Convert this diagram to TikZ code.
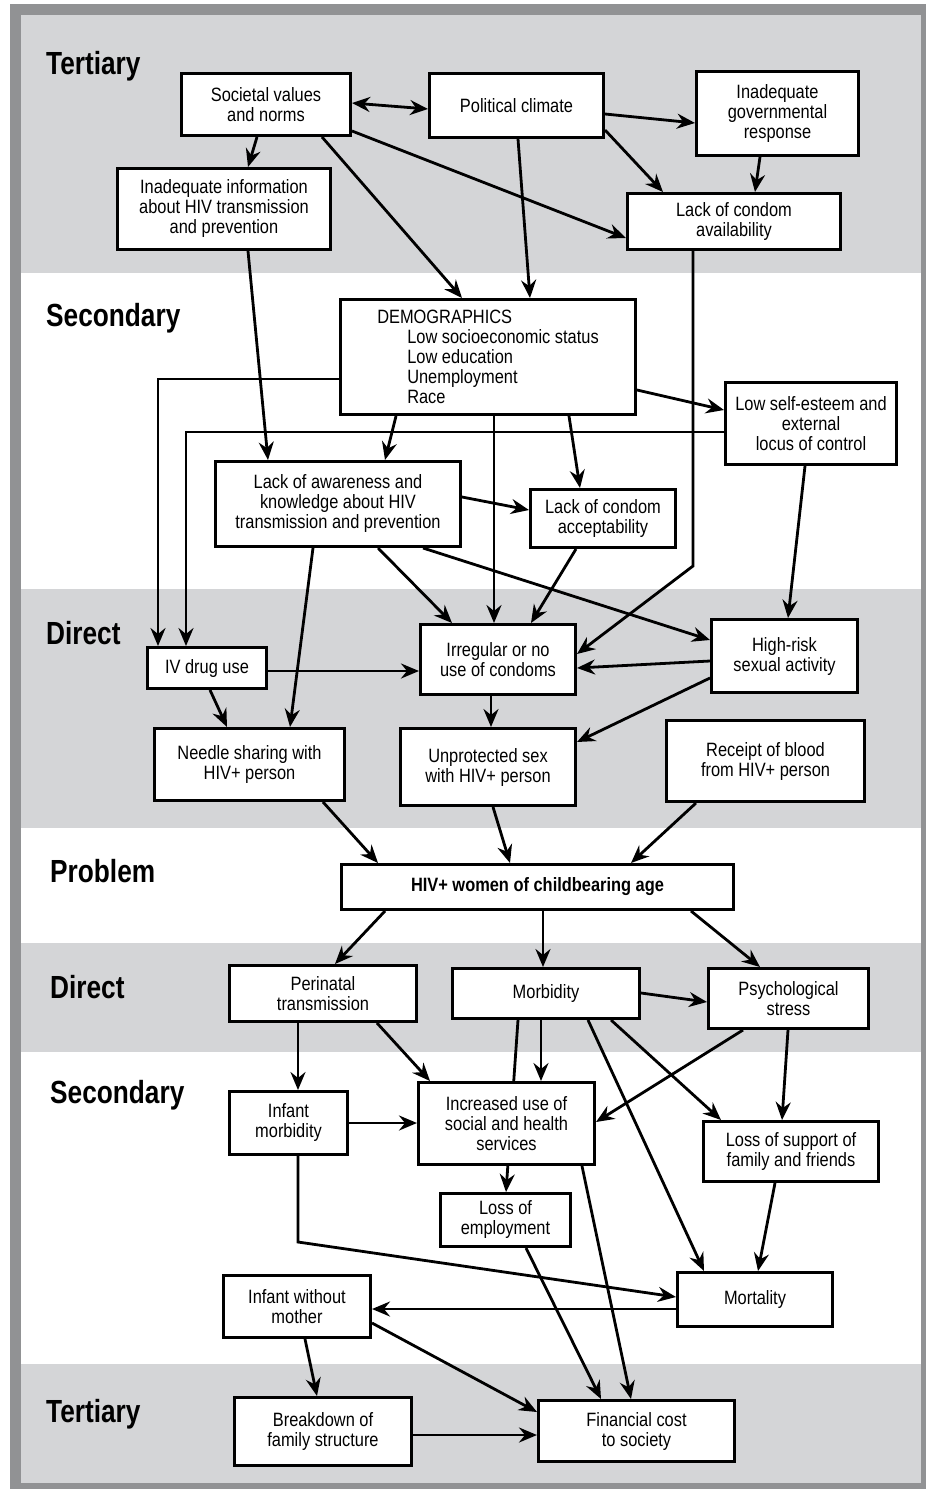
\documentclass[tikz,border=0pt]{standalone}
\usepackage{fontspec}
\setmainfont{Liberation Sans}[FakeStretch=0.85]
\newfontfamily\hdfont{Liberation Sans}[FakeStretch=0.82]
\usetikzlibrary{arrows.meta,calc}
\pgfdeclarelayer{back}
\pgfdeclarelayer{bg}
\pgfsetlayers{back,bg,main}
\definecolor{band}{RGB}{212,213,215}
\definecolor{framegray}{RGB}{145,146,148}
\newcommand\mkbox[6]{\node[bx, minimum width={#4pt-#2pt-3.2pt}, minimum height={#5pt-#3pt-3.2pt}] (#1) at ({(#2+#4)/2},{(#3+#5)/2}) {#6};}
\begin{document}
\begin{tikzpicture}[x=1pt,y=-1pt,
  bx/.style={draw, fill=white, line width=3.2pt, inner sep=0pt, align=center, font=\fontsize{19.3}{20}\selectfont},
  arr/.style={line width=2.8pt, -{Stealth[length=18pt,width=15pt,inset=6pt]}},
  darr/.style={line width=2.8pt, {Stealth[length=18pt,width=15pt,inset=6pt]}-{Stealth[length=18pt,width=15pt,inset=6pt]}},
  hd/.style={anchor=base west, inner sep=0pt, font=\hdfont\bfseries\fontsize{32}{36}\selectfont}]
\useasboundingbox (0,0) rectangle (926,1489);
\begin{pgfonlayer}{back}
\fill[white] (0,0) rectangle (926,1489);
\fill[framegray] (10,4) rectangle (926,1489);
\fill[white] (21,15) rectangle (921,1483);
\fill[band] (21,15) rectangle (921,273);
\fill[band] (21,589) rectangle (921,828);
\fill[band] (21,943) rectangle (921,1052);
\fill[band] (21,1364) rectangle (921,1483);
\end{pgfonlayer}

\node[hd] (h1) at (46,74) {Tertiary};
\node[hd] (h2) at (46,326) {Secondary};
\node[hd] (h3) at (46,644) {Direct};
\node[hd] (h4) at (50,882) {Problem};
\node[hd] (h5) at (50,998) {Direct};
\node[hd] (h6) at (50,1103) {Secondary};
\node[hd] (h7) at (46,1422) {Tertiary};

\mkbox{soc}{180}{72}{352}{137}{Societal values\\and norms}
\mkbox{pol}{428}{72}{605}{139}{Political climate}
\mkbox{gov}{695}{70}{860}{157}{Inadequate\\governmental\\response}
\mkbox{inf}{116}{167}{332}{251}{Inadequate information\\about HIV transmission\\and prevention}
\mkbox{lca}{626}{192}{842}{251}{Lack of condom\\availability}
\node[bx, align=left, minimum width={298pt-3.2pt}, minimum height={118pt-3.2pt}] (demo) at (488,357)
  {DEMOGRAPHICS\\\hspace*{30pt}Low socioeconomic status\\\hspace*{30pt}Low education\\\hspace*{30pt}Unemployment\\\hspace*{30pt}Race};
\mkbox{lse}{724}{381}{898}{466}{Low self-esteem and\\external\\locus of control}
\mkbox{awa}{214}{460}{462}{548}{Lack of awareness and\\knowledge about HIV\\transmission and prevention}
\mkbox{acc}{529}{488}{677}{549}{Lack of condom\\acceptability}
\mkbox{ivd}{146}{646}{268}{690}{IV drug use}
\mkbox{irr}{419}{623}{577}{696}{Irregular or no\\use of condoms}
\mkbox{hrs}{710}{618}{859}{694}{High-risk\\sexual activity}
\mkbox{nee}{153}{727}{346}{802}{Needle sharing with\\HIV+ person}
\mkbox{unp}{399}{727}{577}{807}{Unprotected sex\\with HIV+ person}
\mkbox{rec}{665}{719}{866}{803}{Receipt of blood\\from HIV+ person}
\mkbox{hiv}{340}{863}{735}{911}{\bfseries HIV+ women of childbearing age}
\mkbox{per}{228}{964}{418}{1023}{Perinatal\\transmission}
\mkbox{mor}{451}{967}{641}{1020}{Morbidity}
\mkbox{psy}{707}{967}{870}{1030}{Psychological\\stress}
\mkbox{inm}{228}{1090}{349}{1156}{Infant\\morbidity}
\mkbox{inc}{417}{1081}{596}{1166}{Increased use of\\social and health\\services}
\mkbox{los}{702}{1120}{880}{1183}{Loss of support of\\family and friends}
\mkbox{emp}{439}{1192}{572}{1248}{Loss of\\employment}
\mkbox{mrt}{676}{1271}{834}{1328}{Mortality}
\mkbox{iwm}{222}{1274}{372}{1339}{Infant without\\mother}
\mkbox{brk}{233}{1396}{413}{1467}{Breakdown of\\family structure}
\mkbox{fin}{537}{1399}{736}{1463}{Financial cost\\to society}

\begin{pgfonlayer}{bg}
% tertiary
\draw[darr] (soc.east |- 0,103) -- (pol.west |- 0,109);
\draw[arr] (soc.south -| 257,0) -- (inf.north -| 248,0);
\draw[arr] (soc.south -| 322,0) -- (demo.north -| 462,0);
\draw[arr] (soc.east |- 0,131) -- (lca.west |- 0,238);
\draw[arr] (pol.east |- 0,114) -- (gov.west |- 0,123);
\draw[arr] (pol.east |- 0,130) -- (lca.north -| 663,0);
\draw[arr] (gov.south -| 760,0) -- (lca.north -| 755,0);
\draw[arr] (pol.south -| 518,0) -- (demo.north -| 530,0);
\draw[arr] (inf.south -| 248,0) -- (awa.north -| 268,0);
\draw[arr] (lca.south -| 693,0) -- ++(0,315) -- (irr.east |- 0,654);
% secondary
\draw[arr] (demo.west |- 0,379) -| (ivd.north -| 158,0);
\draw[arr] (lse.west |- 0,432) -| (ivd.north -| 186,0);
\draw[arr] (demo.south -| 396,0) -- (awa.north -| 385,0);
\draw[arr] (demo.south -| 494,0) -- (irr.north -| 494,0);
\draw[arr] (demo.south -| 569,0) -- (acc.north -| 580,0);
\draw[arr] (demo.east |- 0,390) -- (lse.west |- 0,410);
\draw[arr] (awa.east |- 0,497) -- (acc.west |- 0,510);
\draw[arr] (awa.south -| 313,0) -- (nee.north -| 290,0);
\draw[arr] (awa.south -| 378,0) -- (irr.north -| 452,0);
\draw[arr] (awa.south -| 423,0) -- (hrs.west |- 0,640);
\draw[arr] (acc.south -| 576,0) -- (irr.north -| 531,0);
\draw[arr] (lse.south -| 805,0) -- (hrs.north -| 788,0);
% direct
\draw[arr] (ivd.east |- 0,671) -- (irr.west |- 0,671);
\draw[arr] (ivd.south -| 210,0) -- (nee.north -| 227,0);
\draw[arr] (hrs.west |- 0,661) -- (irr.east |- 0,668);
\draw[arr] (irr.south -| 491,0) -- (unp.north -| 491,0);
\draw[arr] (hrs.west |- 0,678) -- (unp.east |- 0,742);
\draw[arr] (nee.south -| 323,0) -- (hiv.north -| 378,0);
\draw[arr] (unp.south -| 493,0) -- (hiv.north -| 510,0);
\draw[arr] (rec.south -| 696,0) -- (hiv.north -| 631,0);
% consequences
\draw[arr] (hiv.south -| 385,0) -- (per.north -| 335,0);
\draw[arr] (hiv.south -| 543,0) -- (mor.north -| 543,0);
\draw[arr] (hiv.south -| 691,0) -- (psy.north -| 760,0);
\draw[arr] (mor.east |- 0,993) -- (psy.west |- 0,1002);
\draw[arr] (per.south -| 298,0) -- (inm.north -| 298,0);
\draw[arr] (per.south -| 377,0) -- (inc.north -| 430,0);
\draw[arr] (inm.east |- 0,1123) -- (inc.west |- 0,1123);
\draw[arr] (inm.south -| 298,0) -- ++(0,86) -- (mrt.west |- 0,1297);
\draw[arr] (mor.south -| 541,0) -- (inc.north -| 541,0);
\draw[arr] (mor.south -| 518,0) -- (emp.north -| 506,0);
\draw[arr] (inc.south -| 582,0) -- (fin.north -| 631,0);
\draw[arr] (mor.south -| 588,0) -- (mrt.north -| 704,0);
\draw[arr] (mor.south -| 611,0) -- (los.north -| 721,0);
\draw[arr] (psy.south -| 743,0) -- (inc.east |- 0,1122);
\draw[arr] (psy.south -| 788,0) -- (los.north -| 782,0);
\draw[arr] (los.south -| 775,0) -- (mrt.north -| 758,0);
\draw[arr] (emp.south -| 526,0) -- (fin.north -| 601,0);
\draw[arr] (mrt.west |- 0,1309) -- (iwm.east |- 0,1309);
\draw[arr] (iwm.south -| 305,0) -- (brk.north -| 317,0);
\draw[arr] (iwm.east |- 0,1323) -- (fin.west |- 0,1412);
\draw[arr] (brk.east |- 0,1435) -- (fin.west |- 0,1435);
\end{pgfonlayer}
\end{tikzpicture}
\end{document}
